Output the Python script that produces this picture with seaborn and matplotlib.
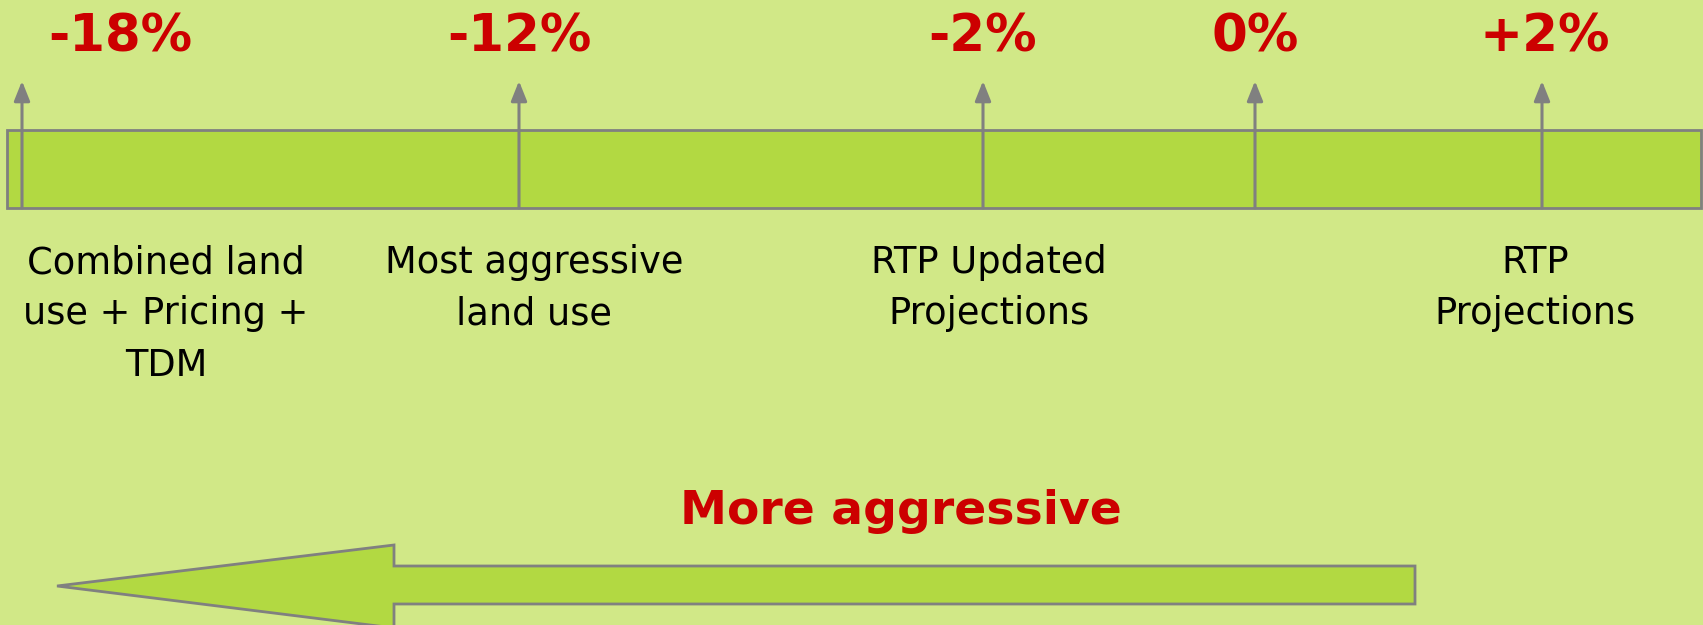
import matplotlib
matplotlib.use("Agg")
import matplotlib.pyplot as plt
import matplotlib.patches as mpatches
import seaborn as sns

# scenario values and descriptions
pct_labels = ["-18%", "-12%", "-2%", "0%", "+2%"]
scenarios = [
    "Combined land\nuse + Pricing +\nTDM",
    "Most aggressive\nland use",
    "RTP Updated\nProjections",
    "",
    "RTP\nProjections",
]
direction_label = "More aggressive"

# layout (pixel space of the slide)
W, H = 1703, 625
marker_x = [22, 519, 983, 1255, 1542]
pct_x = [120, 519, 983, 1255, 1545]
text_x = [166, 534, 989, 1255, 1535]

BG = "#D1E887"
BAR = "#B2D942"
EDGE = "#808080"
RED = "#CC0000"

sns.set_theme(style="white")
plt.rcParams["font.family"] = ["DejaVu Sans"]

fig = plt.figure(figsize=(W / 100, H / 100), dpi=100, facecolor=BG)
ax = fig.add_axes([0, 0, 1, 1])
ax.set_facecolor(BG)
ax.set_xlim(0, W)
ax.set_ylim(H, 0)
ax.axis("off")

# scale bar
ax.add_patch(mpatches.Rectangle((7, 130), 1694, 78, facecolor=BAR,
                                edgecolor=EDGE, linewidth=2, zorder=1))

for mx, px, tx, pct, desc in zip(marker_x, pct_x, text_x, pct_labels, scenarios):
    ax.annotate("", xy=(mx, 81), xytext=(mx, 208),
                arrowprops=dict(arrowstyle="-|>,head_length=1.0,head_width=0.4",
                                color=EDGE, lw=2.2, shrinkA=0, shrinkB=0),
                zorder=3)
    ax.text(px, 37, pct, color=RED, fontsize=37, fontweight="bold",
            ha="center", va="center")
    if desc:
        ax.text(tx, 244, desc, color="black", fontsize=26.5, ha="center",
                va="top", linespacing=1.5)

# big direction arrow
arrow = mpatches.Polygon(
    [(1415, 566), (394, 566), (394, 545), (57, 586),
     (394, 628), (394, 604), (1415, 604)],
    closed=True, facecolor=BAR, edgecolor=EDGE, linewidth=2, zorder=2)
ax.add_patch(arrow)
ax.text(901, 511, direction_label, color=RED, fontsize=34, fontweight="bold",
        ha="center", va="center")

fig.savefig("out.png", dpi=100, facecolor=BG)
